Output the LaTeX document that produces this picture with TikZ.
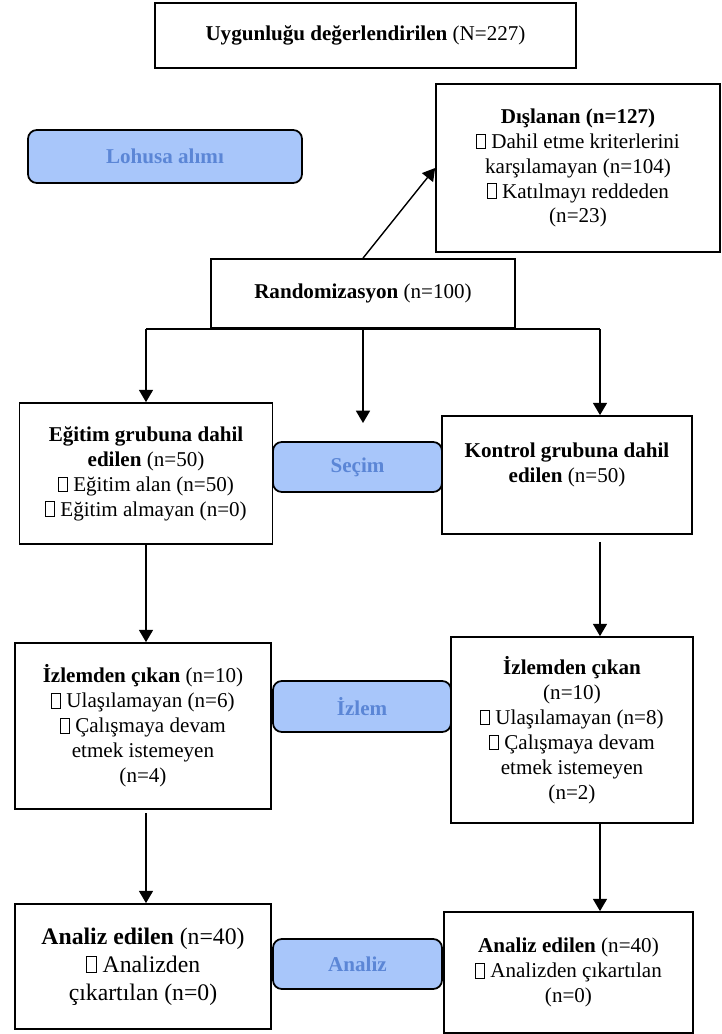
\documentclass[tikz,border=0pt]{standalone}
\usepackage{fontspec}
\setmainfont{Liberation Serif}
\usetikzlibrary{arrows.meta,positioning,calc}
\definecolor{stagefill}{HTML}{A8C6FA}
\definecolor{stagetext}{HTML}{5B86D6}
\newcommand{\tofu}{{\fboxsep=0pt\fboxrule=0.4pt\fbox{\rule{0pt}{0.66em}\hspace{0.4em}}}}

\begin{document}
\begin{tikzpicture}[x=0.02cm,y=-0.02cm,
    box/.style={draw, line width=1pt, align=center, inner sep=0pt, font=\fontsize{12}{14.2}\selectfont},
    stage/.style={draw, line width=1pt, rounded corners=5pt, fill=stagefill, text=stagetext, inner sep=0pt, font=\fontsize{12}{14.2}\selectfont\bfseries},
    flow/.style={line width=0.8pt, -{Triangle[length=7pt,width=8pt]}}]
    \useasboundingbox (0,0) rectangle (721,1034);

    % Enrollment
    \node[box, minimum width=8.42cm, minimum height=1.3cm] (elig) at (365.5,35.5) {\textbf{Uygunluğu değerlendirilen} (N=227)};
    \node[stage, minimum width=5.48cm, minimum height=1.06cm] (enrol) at (165,156.5) {Lohusa alımı};
    \node[box, minimum width=5.68cm, minimum height=3.36cm] (excl) at (578,168) {\textbf{Dışlanan (n=127)}\\ \tofu{} Dahil etme kriterlerini\\ karşılamayan (n=104)\\ \tofu{} Katılmayı reddeden\\ (n=23)};
    \node[box, minimum width=6.08cm, minimum height=1.38cm] (rand) at (363,293.5) {\textbf{Randomizasyon} (n=100)};
    \draw[flow] (rand.north) -- (excl.west);

    % Allocation
    \coordinate (splitL) at (146,329);
    \coordinate (splitR) at (600,329);
    \coordinate (midtip) at (363,423);
    \node[box, minimum width=5.06cm, minimum height=2.82cm] (edu) at (146,473.5) {\textbf{Eğitim grubuna dahil}\\ \textbf{edilen} (n=50)\\ \tofu{} Eğitim alan (n=50)\\ \tofu{} Eğitim almayan (n=0)};
    \node[stage, minimum width=3.38cm, minimum height=1.0cm] (alloc) at (357.5,467) {Seçim};
    \node[box, minimum width=5.0cm, minimum height=2.36cm] (ctrl) at (567,475) {\textbf{Kontrol grubuna dahil}\\ \textbf{edilen} (n=50)\\ \mbox{}};
    \draw[line width=0.8pt] (splitL) -- (splitR);
    \draw[flow] (splitL) -- (edu.north);
    \draw[flow] (rand.south) -- (midtip);
    \draw[flow] (splitR) -- (splitR |- ctrl.north);

    % Follow-up
    \node[box, minimum width=5.12cm, minimum height=3.32cm] (fuA) at (143,726) {\textbf{İzlemden çıkan} (n=10)\\ \tofu{} Ulaşılamayan (n=6)\\ \tofu{} Çalışmaya devam\\ etmek istemeyen\\ (n=4)};
    \node[stage, minimum width=3.56cm, minimum height=1.02cm] (fu) at (362,706.5) {İzlem};
    \node[box, minimum width=4.84cm, minimum height=3.72cm] (fuB) at (572,730) {\textbf{İzlemden çıkan}\\ (n=10)\\ \tofu{} Ulaşılamayan (n=8)\\ \tofu{} Çalışmaya devam\\ etmek istemeyen\\ (n=2)};
    \draw[flow] (edu.south) -- (edu.south |- fuA.north);
    \draw[flow, shorten <=4pt] (ctrl.south -| splitR) -- (fuB.north -| splitR);

    % Analysis
    \node[box, minimum width=5.12cm, minimum height=2.5cm, font=\fontsize{13.5}{16}\selectfont] (anA) at (143,966.5) {\textbf{Analiz edilen} (n=40)\\ \tofu{} Analizden\\ çıkartılan (n=0)};
    \node[stage, minimum width=3.38cm, minimum height=1.0cm] (an) at (357.5,964) {Analiz};
    \node[box, minimum width=4.98cm, minimum height=2.42cm] (anB) at (568.5,972.5) {\textbf{Analiz edilen} (n=40)\\ \tofu{} Analizden çıkartılan\\ (n=0)};
    \draw[flow, shorten <=2pt] (fuA.south -| splitL) -- (anA.north -| splitL);
    \draw[flow] (fuB.south -| splitR) -- (anB.north -| splitR);
\end{tikzpicture}
\end{document}
